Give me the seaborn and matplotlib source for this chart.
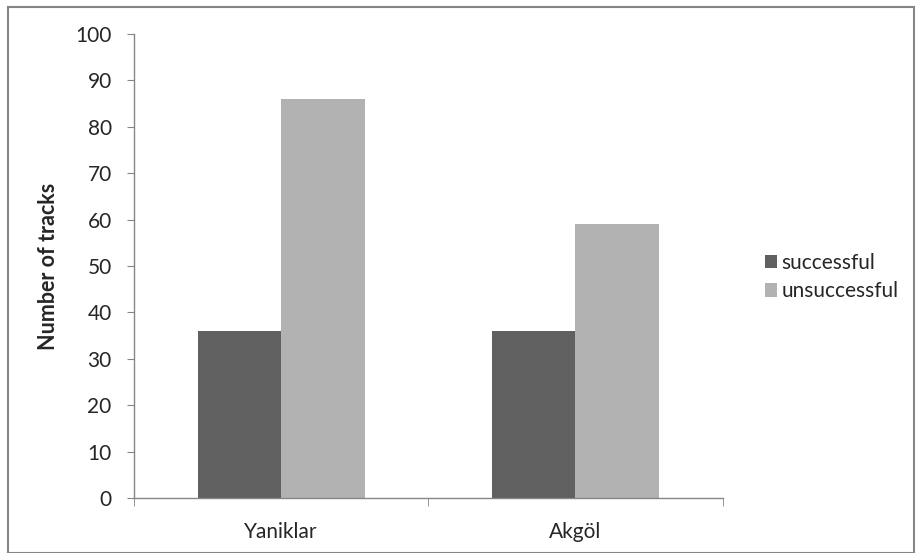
import pandas as pd
import matplotlib.pyplot as plt
import seaborn as sns
from matplotlib.patches import Rectangle

# data
sites = ['Yaniklar', 'Akgöl']
successful = [36, 36]
unsuccessful = [86, 59]

df = pd.DataFrame({
    'site': sites * 2,
    'outcome': ['successful'] * 2 + ['unsuccessful'] * 2,
    'tracks': successful + unsuccessful,
})

sns.set_style('white')
plt.rcParams['font.family'] = ['Lato', 'DejaVu Sans']

fig = plt.figure(figsize=(9.17, 5.53), dpi=100)
ax = fig.add_axes([0.146, 0.0995, 0.642, 0.839])

sns.barplot(data=df, x='site', y='tracks', hue='outcome',
            palette=['#606060', '#b2b2b2'], width=0.567, gap=0,
            edgecolor='none', ax=ax)

ax.set_ylim(0, 100)
ax.set_xlim(-0.5, 1.5)
ax.set_yticks(range(0, 101, 10))
ax.tick_params(axis='y', labelsize=15, length=5, color='#868686', direction='out', left=True, pad=11)
ax.tick_params(axis='x', labelsize=15, length=0, pad=17)
ax.set_xticks([-0.5, 0.5, 1.5], minor=True)
ax.tick_params(axis='x', which='minor', length=6, color='#868686', bottom=True)
ax.set_xlabel('')
ax.set_ylabel('Number of tracks', fontsize=15.5, fontweight='bold', labelpad=12)

for side in ['top', 'right']:
    ax.spines[side].set_visible(False)
for side in ['left', 'bottom']:
    ax.spines[side].set_color('#868686')
    ax.spines[side].set_linewidth(1)

ax.legend(loc='center left', bbox_to_anchor=(1.04, 0.476), frameon=False,
          fontsize=15, handlelength=0.6, handleheight=0.6, handletextpad=0.2,
          labelspacing=0.4)

# outer chart border
fig.patches.append(Rectangle((8 / 917, 0), 906 / 917, 546 / 553, transform=fig.transFigure,
                             fill=False, edgecolor='#868686', linewidth=1.5))

fig.savefig('out.png', dpi=100)
